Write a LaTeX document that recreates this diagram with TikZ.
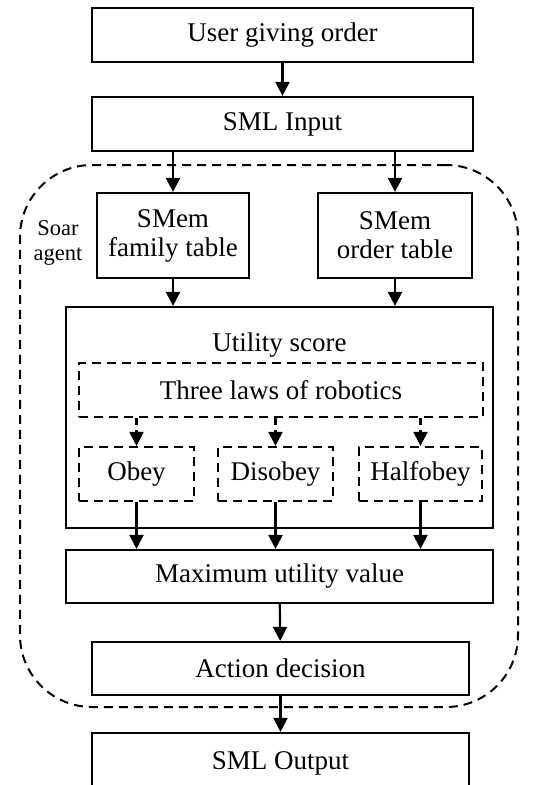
\documentclass[tikz,border=0pt]{standalone}
\usepackage{fontspec}
\setmainfont{Liberation Serif}
\usepackage{tikz}
\usetikzlibrary{arrows.meta,calc,positioning}

\begin{document}
\begin{tikzpicture}[x=1pt,y=-1pt,node distance=2cm,on grid,
    box/.style={draw,line width=2.2pt,minimum height=54pt,inner sep=0pt,
      align=center,font=\fontsize{27}{29}\selectfont},
    dbox/.style={box,dash pattern=on 9pt off 6pt},
    arr/.style={-{Triangle[length=14pt,width=14pt]},line width=2.2pt},
    darr/.style={arr,dash pattern=on 7pt off 5pt}]
  \useasboundingbox (0,0) rectangle (534,785);

  % soar agent region
  \node[draw,line width=2pt,dash pattern=on 9pt off 6pt,rounded corners=72pt,
    minimum width=498pt,minimum height=542pt] (agent) at (269,436) {};
  \node[align=center,font=\fontsize{22.5}{25}\selectfont] (soar) at (58,243) {Soar\\agent};

  \node[box,minimum width=381pt] (user) at (282.5,35) {User giving order};
  \node[box,minimum width=381pt] (in) [below=89pt of user] {SML Input};
  \node[box,minimum width=152pt,minimum height=85pt] (fam) at (173,235.5) {SMem\\family table};
  \node[box,minimum width=154pt,minimum height=85pt] (ord) [right=222pt of fam] {SMem\\order table};

  \node[box,minimum width=427pt,minimum height=221pt] (util) at (279.5,417.5) {};
  \node[font=\fontsize{27}{29}\selectfont] (utiltxt) [below=23pt of util.north] {Utility score};
  \node[dbox,minimum width=404pt] (laws) at (281,390) {Three laws of robotics};
  \node[dbox,minimum width=115pt] (obey) at (136.5,474) {Obey};
  \node[dbox,minimum width=115pt] (dis) [right=139pt of obey] {Disobey};
  \node[dbox,minimum width=123pt] (half) [right=145pt of dis] {Halfobey};

  \node[box,minimum width=427pt,minimum height=53pt] (max) at (279.5,576.5) {Maximum utility value};
  \node[box,minimum width=377pt,minimum height=53pt] (act) at (280.5,668.5) {Action decision};
  \node[box,minimum width=377pt,minimum height=60pt] (out) [below=94.5pt of act] {SML Output};

  \draw[arr] (user) -- (in);
  \draw[arr] (in.south -| fam) -- (fam);
  \draw[arr] (in.south -| ord) -- (ord);
  \draw[arr] (fam) -- (fam |- util.north);
  \draw[arr] (ord) -- (ord |- util.north);
  \foreach \n in {obey,dis,half}{
    \draw[darr] (laws.south -| \n) -- (\n);
    \draw[arr] (\n) -- (\n |- max.north);
  }
  \draw[arr] (max) -- (act);
  \draw[arr] (act) -- (out);
\end{tikzpicture}
\end{document}
